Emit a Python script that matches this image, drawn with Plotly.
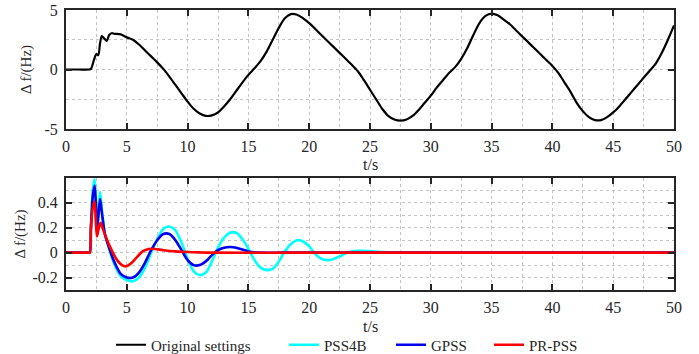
import plotly.graph_objects as go

# ---------------- data ----------------
t_orig = [0, 1.0, 1.9, 2.05, 2.3, 2.5, 2.65, 2.8, 2.95, 3.15, 3.35, 3.55, 3.75, 4.0, 4.5, 5.0, 5.5,
          6, 6.5, 7, 7.5, 8, 8.5, 9, 9.5, 10, 10.5, 11, 11.5, 12, 12.5, 13, 13.5, 14, 14.5, 15,
          15.5, 16, 16.5, 17, 17.5, 18, 18.5, 19, 19.5, 20, 20.5, 21, 21.5, 22, 22.5, 23, 23.5,
          24, 24.5, 25, 25.5, 26, 26.5, 27, 27.5, 28, 28.5, 29, 29.5, 30, 30.5, 31, 31.5, 32,
          32.5, 33, 33.5, 34, 34.5, 35, 35.5, 36, 36.5, 37, 37.5, 38, 38.5, 39, 39.5, 40, 40.5,
          41, 41.5, 42, 42.5, 43, 43.5, 44, 44.5, 45, 45.5, 46, 46.5, 47, 47.5, 48, 48.5, 49,
          49.5, 50]
v_orig = [0, 0, 0, 0.05, 0.8, 1.3, 1.2, 2.2, 2.8, 2.6, 2.4, 2.9, 3.05, 3.0, 2.95, 2.7, 2.5,
          2.1, 1.6, 1.1, 0.6, 0.05, -0.6, -1.3, -2.0, -2.7, -3.3, -3.7, -3.9, -3.85, -3.6, -3.1,
          -2.5, -1.8, -1.1, -0.45, 0.1, 0.7, 1.5, 2.5, 3.5, 4.3, 4.65, 4.6, 4.3, 3.9, 3.4, 2.9,
          2.4, 1.9, 1.4, 0.9, 0.4, -0.15, -0.9, -1.7, -2.5, -3.3, -3.9, -4.2, -4.3, -4.2, -3.9,
          -3.4, -2.8, -2.2, -1.5, -0.9, -0.3, 0.2, 0.9, 1.8, 2.9, 3.9, 4.5, 4.7, 4.55, 4.2, 3.8,
          3.3, 2.8, 2.3, 1.8, 1.3, 0.8, 0.3, -0.3, -1.1, -1.9, -2.8, -3.5, -4.0, -4.25, -4.25,
          -4.0, -3.6, -3.1, -2.5, -1.9, -1.3, -0.7, -0.1, 0.5, 1.4, 2.5, 3.7]

t_pss4b = [0, 1.0, 1.8, 1.95, 2.05, 2.2, 2.35, 2.45, 2.55, 2.65, 2.8, 2.95, 3.2, 3.5, 4, 4.5, 5,
           5.5, 6, 6.5, 7, 7.5, 8, 8.5, 9, 9.5, 10, 10.5, 11, 11.5, 12, 12.5, 13, 13.5, 14, 14.5,
           15, 15.5, 16, 16.5, 17, 17.5, 18, 18.5, 19, 19.5, 20, 20.5, 21, 21.5, 22, 22.5, 23,
           23.5, 24, 24.5, 25, 26, 27, 28, 35, 50]
v_pss4b = [0, 0, 0, 0, 0.2, 0.5, 0.59, 0.45, 0.2, 0.3, 0.49, 0.35, 0.15, 0.05, -0.1, -0.19,
           -0.22, -0.23, -0.2, -0.12, 0.0, 0.11, 0.19, 0.21, 0.18, 0.08, -0.05, -0.15, -0.18,
           -0.16, -0.07, 0.04, 0.12, 0.16, 0.16, 0.11, 0.03, -0.06, -0.12, -0.14, -0.13, -0.07,
           0.01, 0.07, 0.1, 0.09, 0.05, -0.01, -0.05, -0.06, -0.05, -0.03, -0.005, 0.01, 0.015,
           0.015, 0.012, 0.005, 0.001, 0, 0, 0]

t_gpss = [0, 1.0, 1.8, 1.95, 2.05, 2.2, 2.35, 2.45, 2.55, 2.65, 2.8, 2.95, 3.2, 3.5, 4, 4.5, 5,
          5.5, 6, 6.5, 7, 7.5, 8, 8.5, 9, 9.5, 10, 10.5, 11, 11.5, 12, 12.5, 13, 13.5, 14, 14.5,
          15, 15.5, 16, 18, 30, 50]
v_gpss = [0, 0, 0, 0, 0.2, 0.45, 0.54, 0.4, 0.2, 0.28, 0.43, 0.32, 0.15, 0.05, -0.08, -0.17,
          -0.2, -0.2, -0.16, -0.08, 0.02, 0.1, 0.15, 0.15, 0.1, 0.02, -0.06, -0.1, -0.1, -0.07,
          -0.02, 0.02, 0.04, 0.045, 0.04, 0.025, 0.01, 0.003, 0, 0, 0, 0]

t_prpss = [0, 1.0, 1.8, 1.95, 2.05, 2.2, 2.35, 2.45, 2.55, 2.7, 2.85, 3.0, 3.3, 3.7, 4.2, 4.6,
           4.9, 5.3, 5.8, 6.3, 6.8, 7.3, 8, 9, 10, 11, 12, 20, 35, 50]
v_prpss = [0, 0, 0, 0, 0.2, 0.36, 0.41, 0.25, 0.13, 0.2, 0.24, 0.2, 0.12, 0.03, -0.06, -0.1,
           -0.11, -0.09, -0.04, 0.01, 0.03, 0.03, 0.02, 0.01, 0.005, 0.002, 0, 0, 0, 0]

x_ticks = [0, 5, 10, 15, 20, 25, 30, 35, 40, 45, 50]
y1_ticks = [-5, 0, 5]
y1_labels = ["-5", "0", "5"]
y2_ticks = [-0.2, 0, 0.2, 0.4]
y2_labels = ["-0.2", "0", "0.2", "0.4"]
x_title = "t/s"
y_title = "Δ f/(Hz)"

FONT = "'Liberation Serif', 'Times New Roman', 'DejaVu Serif', serif"
FRAME = "#262626"
GRID = "#c4c4c4"
TXT = "#262626"
FS = 16
LFS = 15

fig = go.Figure()
fig.add_trace(go.Scatter(x=t_orig, y=v_orig, mode="lines", name="Original settings",
                         line=dict(color="black", width=2.2, shape="spline", smoothing=0.8),
                         xaxis="x", yaxis="y", legend="legend"))
fig.add_trace(go.Scatter(x=t_pss4b, y=v_pss4b, mode="lines", name="PSS4B",
                         line=dict(color="#00ffff", width=2.6, shape="spline", smoothing=0.8),
                         xaxis="x2", yaxis="y2", legend="legend2"))
fig.add_trace(go.Scatter(x=t_gpss, y=v_gpss, mode="lines", name="GPSS",
                         line=dict(color="#0000ee", width=2.6, shape="spline", smoothing=0.8),
                         xaxis="x2", yaxis="y2", legend="legend3"))
fig.add_trace(go.Scatter(x=t_prpss, y=v_prpss, mode="lines", name="PR-PSS",
                         line=dict(color="#ff0000", width=2.6, shape="spline", smoothing=0.8),
                         xaxis="x2", yaxis="y2", legend="legend4"))

common_x = dict(range=[0, 50], tickvals=x_ticks, ticks="inside", ticklen=6, tickwidth=2,
                tickcolor=FRAME, showline=True, linecolor=FRAME, linewidth=2, mirror="ticks",
                showgrid=True, gridcolor=GRID, griddash="dot", gridwidth=1,
                minor=dict(dtick=2.5, tick0=0, showgrid=True, gridcolor=GRID, griddash="dot",
                           gridwidth=1, ticks=""),
                zeroline=False, automargin=True, ticklabelstandoff=2,
                tickfont=dict(family=FONT, size=FS, color=TXT))


def leg(x_px):
    return dict(orientation="h", x=x_px / 699, xref="container", xanchor="left",
                y=9 / 354, yref="container", yanchor="middle",
                font=dict(family=FONT, size=LFS, color=TXT), bgcolor="rgba(0,0,0,0)",
                itemwidth=30, tracegroupgap=0)


PLOT_H = 354 - 10 - 64
fig.update_layout(
    width=699, height=354,
    margin=dict(l=66, r=25, t=10, b=64, autoexpand=False),
    paper_bgcolor="white", plot_bgcolor="white",
    font=dict(family=FONT, size=FS, color=TXT),
    xaxis=dict(domain=[0, 1], anchor="y", **common_x),
    xaxis2=dict(domain=[0, 1], anchor="y2", **common_x),
    yaxis=dict(domain=[0.575, 1], anchor="x", range=[-5, 5], tickvals=y1_ticks,
               ticktext=y1_labels, ticks="inside", ticklen=6, tickwidth=2, tickcolor=FRAME,
               showline=True, linecolor=FRAME, linewidth=2, mirror="ticks",
               showgrid=True, gridcolor=GRID, griddash="dot", gridwidth=1,
               minor=dict(dtick=2.5, tick0=0, showgrid=True, gridcolor=GRID, griddash="dot",
                          gridwidth=1, ticks=""),
               zeroline=False, automargin=True, ticklabelstandoff=3,
               tickfont=dict(family=FONT, size=FS, color=TXT),
               title=dict(text=y_title, font=dict(family=FONT, size=LFS, color=TXT),
                          standoff=9)),
    yaxis2=dict(domain=[0, 0.4], anchor="x2", range=[-0.3, 0.6], tickvals=y2_ticks,
                ticktext=y2_labels, ticks="inside", ticklen=6, tickwidth=2, tickcolor=FRAME,
                showline=True, linecolor=FRAME, linewidth=2, mirror="ticks",
                showgrid=True, gridcolor=GRID, griddash="dot", gridwidth=1,
                minor=dict(dtick=0.1, tick0=0, showgrid=True, gridcolor=GRID, griddash="dot",
                           gridwidth=1, ticks=""),
                zeroline=False, automargin=True, ticklabelstandoff=3,
                tickfont=dict(family=FONT, size=FS, color=TXT),
                title=dict(text=y_title, font=dict(family=FONT, size=LFS, color=TXT),
                           standoff=3)),
    legend=leg(111),
    legend2=leg(284),
    legend3=leg(391),
    legend4=leg(489),
    showlegend=True,
    annotations=[
        dict(text=x_title, xref="paper", yref="paper", x=0.5, y=(290 - 164) / PLOT_H,
             xanchor="center", yanchor="middle", showarrow=False,
             font=dict(family=FONT, size=FS, color=TXT)),
        dict(text=x_title, xref="paper", yref="paper", x=0.5, y=(290 - 326) / PLOT_H,
             xanchor="center", yanchor="middle", showarrow=False,
             font=dict(family=FONT, size=FS, color=TXT)),
    ],
)

fig.write_html("out.html")
